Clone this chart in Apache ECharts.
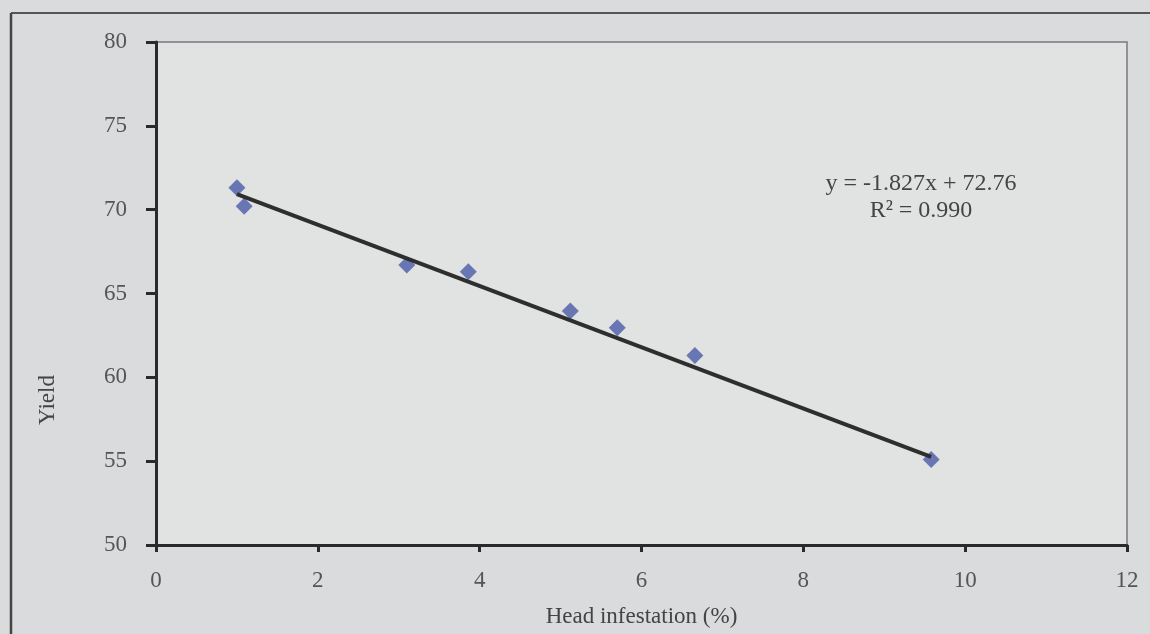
<!DOCTYPE html>
<html>
<head>
<meta charset="utf-8">
<script src="https://cdn.jsdelivr.net/npm/echarts@6/dist/echarts.min.js"></script>
<style>
html,body{margin:0;padding:0;background:#d9dbdc;}
#chart{width:1150px;height:634px;}
</style>
</head>
<body>
<div id="chart"></div>
<script>
const infestation = [1.0, 1.09, 3.1, 3.86, 5.12, 5.7, 6.66, 9.58];
const yieldValues = [71.3, 70.2, 66.7, 66.3, 63.95, 62.95, 61.3, 55.1];
const xTicks = [0, 2, 4, 6, 8, 10, 12];
const yTicks = [50, 55, 60, 65, 70, 75, 80];
const slope = -1.827;
const intercept = 72.76;
const equationText = 'y = -1.827x + 72.76';
const r2Text = 'R² = 0.990';

const xMin = Math.min(...infestation), xMax = Math.max(...infestation);
const trend = [[xMin, slope * xMin + intercept], [xMax, slope * xMax + intercept]];
const points = infestation.map((x, i) => [x, yieldValues[i]]);

const font = '"Liberation Serif", "DejaVu Serif", serif';
const chart = echarts.init(document.getElementById('chart'));
chart.setOption({
  backgroundColor: '#d9dbdc',
  animation: false,
  grid: {left: 156, right: 23, top: 42, bottom: 89, show: true, containLabel: false,
         outerBoundsMode: 'none',
         backgroundColor: '#e1e2e2', borderColor: '#7a7a7a', borderWidth: 1.5},
  xAxis: {
    type: 'value', min: xTicks[0], max: xTicks[xTicks.length-1], interval: 2,
    name: 'Head infestation (%)', nameLocation: 'middle', nameGap: 60,
    nameTextStyle: {fontFamily: font, fontSize: 23, color: '#444'},
    axisLine: {show: true, onZero: false, lineStyle: {color: '#2a2a2a', width: 3}},
    axisTick: {show: true, length: 7, lineStyle: {color: '#2a2a2a', width: 3}},
    axisLabel: {fontFamily: font, fontSize: 23, color: '#555', margin: 24},
    splitLine: {show: false}
  },
  yAxis: {
    type: 'value', min: yTicks[0], max: yTicks[yTicks.length-1], interval: 5,
    axisLine: {show: true, onZero: false, lineStyle: {color: '#2a2a2a', width: 3}},
    axisTick: {show: true, inside: false, length: 10, lineStyle: {color: '#2a2a2a', width: 3}},
    axisLabel: {fontFamily: font, fontSize: 23, color: '#555', margin: 29},
    splitLine: {show: false}
  },
  graphic: [
    {type: 'line', shape: {x1: 11, y1: 13, x2: 1150, y2: 13}, style: {stroke: '#555', lineWidth: 2}},
    {type: 'line', shape: {x1: 11, y1: 13, x2: 11, y2: 634}, style: {stroke: '#444', lineWidth: 2.5}},
    {type: 'text', x: 48, y: 400, rotation: Math.PI / 2,
     style: {text: 'Yield', fontFamily: font, fontSize: 23, fill: '#444', textAlign: 'center', textVerticalAlign: 'middle'}},
    {type: 'text', x: 921, y: 184,
     style: {text: equationText, fontFamily: font, fontSize: 24, fill: '#444', textAlign: 'center', textVerticalAlign: 'middle'}},
    {type: 'text', x: 921, y: 211,
     style: {text: r2Text, fontFamily: font, fontSize: 24, fill: '#444', textAlign: 'center', textVerticalAlign: 'middle'}}
  ],
  series: [
    {type: 'scatter', data: points, symbol: 'diamond', symbolSize: 17,
     itemStyle: {color: '#4a5ca8'}, z: 3},
    {type: 'line', data: trend, symbol: 'none', lineStyle: {color: '#2e2e2e', width: 4}, z: 4}
  ]
});
</script>
</body>
</html>
